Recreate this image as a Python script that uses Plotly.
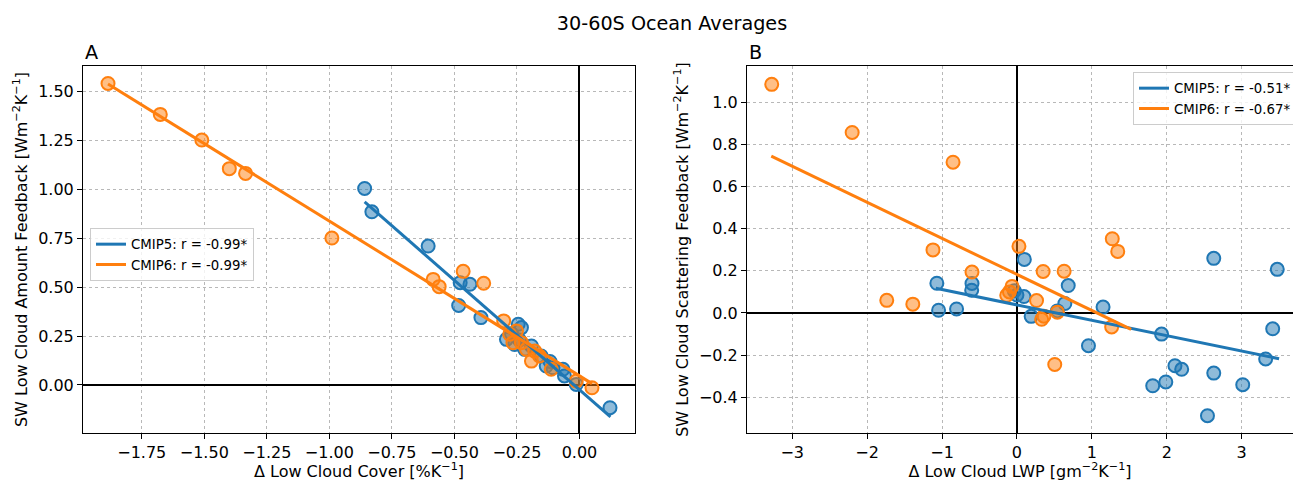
import numpy as np
import plotly.graph_objects as go
from plotly.subplots import make_subplots

# ---- Panel A: low cloud amount feedback vs change in low cloud cover ----
cmip5_dlcc = [-0.859, -0.830, -0.605, -0.477, -0.438, -0.483, -0.394, -0.245, -0.232,
              -0.292, -0.259, -0.272, -0.219, -0.192, -0.240, -0.153, -0.133, -0.106,
              -0.118, -0.066, -0.060, -0.013, 0.122]
cmip5_amt = [1.003, 0.884, 0.709, 0.522, 0.514, 0.406, 0.344, 0.310, 0.293,
             0.233, 0.207, 0.262, 0.182, 0.199, 0.230, 0.148, 0.097, 0.088,
             0.120, 0.080, 0.046, 0.003, -0.116]
cmip6_dlcc = [-1.885, -1.676, -1.510, -1.400, -1.335, -0.990, -0.585, -0.561, -0.465,
              -0.383, -0.303, -0.279, -0.252, -0.266, -0.232, -0.212, -0.192, -0.179,
              -0.160, -0.113, -0.013, 0.050]
cmip6_amt = [1.539, 1.381, 1.250, 1.104, 1.080, 0.750, 0.539, 0.502, 0.580,
             0.519, 0.327, 0.259, 0.276, 0.216, 0.216, 0.182, 0.122, 0.173,
             0.148, 0.080, 0.020, -0.014]

# ---- Panel B: low cloud scattering feedback vs change in low cloud LWP ----
cmip5_dlwp = [-1.069, -1.046, -0.806, -0.600, -0.604, 0.099, 0.094, -0.035, 0.000,
              0.190, 0.540, 0.640, 0.685, 1.150, 0.955, 1.931, 2.628, 3.476,
              3.415, 3.321, 2.110, 2.200, 2.628, 1.813, 1.988, 3.015, 2.544]
cmip5_scat = [0.141, 0.013, 0.019, 0.140, 0.108, 0.254, 0.078, 0.105, 0.085,
              -0.016, 0.010, 0.045, 0.130, 0.028, -0.155, -0.100, 0.259, 0.207,
              -0.075, -0.218, -0.250, -0.267, -0.285, -0.345, -0.327, -0.340, -0.487]
cmip6_dlwp = [-3.274, -2.200, -0.853, -1.121, -0.600, -1.738, -1.390, 0.027, 0.350,
              0.630, 1.273, 1.346, -0.065, -0.136, 0.262, 0.330, 0.360, 0.540,
              1.265, 0.505, -0.100]
cmip6_scat = [1.084, 0.856, 0.715, 0.299, 0.194, 0.060, 0.042, 0.316, 0.197,
              0.198, 0.352, 0.292, 0.126, 0.084, 0.059, -0.030, -0.015, 0.004,
              -0.066, -0.244, 0.100]

# x extent over which each regression line is drawn
fit_span_a5 = [-0.859, 0.124]
fit_span_a6 = [-1.885, 0.050]
fit_span_b5 = [-1.083, 3.500]
fit_span_b6 = [-3.280, 1.525]

legend_a = ["CMIP5: r = -0.99*", "CMIP6: r = -0.99*"]
legend_b = ["CMIP5: r = -0.51*", "CMIP6: r = -0.67*"]

BLUE = "#1f77b4"
ORANGE = "#ff7f0e"
FILL = {BLUE: "rgba(31,119,180,0.5)", ORANGE: "rgba(255,127,14,0.5)"}
FONT = "DejaVu Sans"
BASE = 16

W, H = 1293, 481
ML, MR, MT, MB = 83, 0, 66, 48

fig = make_subplots(rows=1, cols=2, horizontal_spacing=0.0)


def scatter(x, y, color, col):
    fig.add_trace(go.Scatter(
        x=x, y=y, mode="markers", showlegend=False, hoverinfo="skip",
        marker=dict(size=13, color=FILL[color], line=dict(color=color, width=2)),
    ), row=1, col=col)


def fit_line(x, y, span, color, name, col, legend):
    k, b = np.polyfit(np.asarray(x), np.asarray(y), 1)
    xs = np.array(span)
    fig.add_trace(go.Scatter(
        x=xs, y=k * xs + b, mode="lines", name=name, legend=legend,
        line=dict(color=color, width=3), hoverinfo="skip",
    ), row=1, col=col)


scatter(cmip5_dlcc, cmip5_amt, BLUE, 1)
scatter(cmip6_dlcc, cmip6_amt, ORANGE, 1)
fit_line(cmip5_dlcc, cmip5_amt, fit_span_a5, BLUE, legend_a[0], 1, "legend")
fit_line(cmip6_dlcc, cmip6_amt, fit_span_a6, ORANGE, legend_a[1], 1, "legend")

scatter(cmip5_dlwp, cmip5_scat, BLUE, 2)
scatter(cmip6_dlwp, cmip6_scat, ORANGE, 2)
fit_line(cmip5_dlwp, cmip5_scat, fit_span_b5, BLUE, legend_b[0], 2, "legend2")
fit_line(cmip6_dlwp, cmip6_scat, fit_span_b6, ORANGE, legend_b[1], 2, "legend2")

pw = W - ML - MR
ph = H - MT - MB
dom_a = [0.0, (635 - ML) / pw]
dom_b = [(747 - ML) / pw, 1.0]

common = dict(
    showgrid=True, gridcolor="#b8b8b8", griddash="3px,3px", gridwidth=1,
    zeroline=True, zerolinecolor="black", zerolinewidth=1.5,
    showline=True, linecolor="black", linewidth=1,
    ticks="outside", ticklen=5, tickwidth=1, tickcolor="black",
    tickfont=dict(family=FONT, size=BASE, color="black"),
    title_font=dict(family=FONT, size=BASE, color="black"),
)

fig.update_xaxes(common)
fig.update_yaxes(common)

fig.update_xaxes(domain=dom_a, range=[-1.985, 0.222], dtick=0.25, tick0=0,
                 tickformat=".2f", mirror=True,
                 title_text="Δ Low Cloud Cover [%K<sup>−1</sup>]", title_standoff=4,
                 row=1, col=1)
fig.update_yaxes(range=[-0.245, 1.628], dtick=0.25, tick0=0, tickformat=".2f",
                 mirror=True,
                 title_text="SW Low Cloud Amount Feedback [Wm<sup>−2</sup>K<sup>−1</sup>]",
                 title_standoff=6, row=1, col=1)
fig.update_xaxes(domain=dom_b, range=[-3.604, 3.686], dtick=1, tick0=0, mirror=True,
                 title_text="Δ Low Cloud LWP [gm<sup>−2</sup>K<sup>−1</sup>]", title_standoff=4,
                 row=1, col=2)
fig.update_yaxes(range=[-0.569, 1.171], dtick=0.2, tick0=0, tickformat=".1f",
                 mirror=False,
                 title_text="SW Low Cloud Scattering Feedback [Wm<sup>−2</sup>K<sup>−1</sup>]",
                 title_standoff=6, row=1, col=2)

legend_style = dict(
    bgcolor="rgba(255,255,255,0.8)", bordercolor="#cccccc", borderwidth=1,
    font=dict(family=FONT, size=BASE * 0.833, color="black"),
    xanchor="left", yanchor="top", tracegroupgap=0, itemwidth=30,
)

fig.update_layout(
    width=W, height=H,
    margin=dict(l=ML, r=MR, t=MT, b=MB, autoexpand=False),
    paper_bgcolor="white", plot_bgcolor="white",
    font=dict(family=FONT, color="black"),
    title=dict(text="30-60S Ocean Averages", x=(672 - ML) / pw, xref="paper",
               xanchor="center", y=1 - 23 / H, yanchor="middle",
               font=dict(family=FONT, size=BASE * 1.2, color="black")),
    legend=dict(legend_style, x=(90 - ML) / pw, y=1 - (228 - MT) / ph),
    legend2=dict(legend_style, x=(1133 - ML) / pw, y=1 - (72 - MT) / ph),
    annotations=[
        dict(text="A", xref="x domain", yref="y domain", x=0, y=1.0,
             xanchor="left", yanchor="bottom", showarrow=False,
             font=dict(family=FONT, size=BASE * 1.2, color="black")),
        dict(text="B", xref="x2 domain", yref="y2 domain", x=0, y=1.0,
             xanchor="left", yanchor="bottom", showarrow=False,
             font=dict(family=FONT, size=BASE * 1.2, color="black")),
    ],
)

fig.write_html("out.html")
